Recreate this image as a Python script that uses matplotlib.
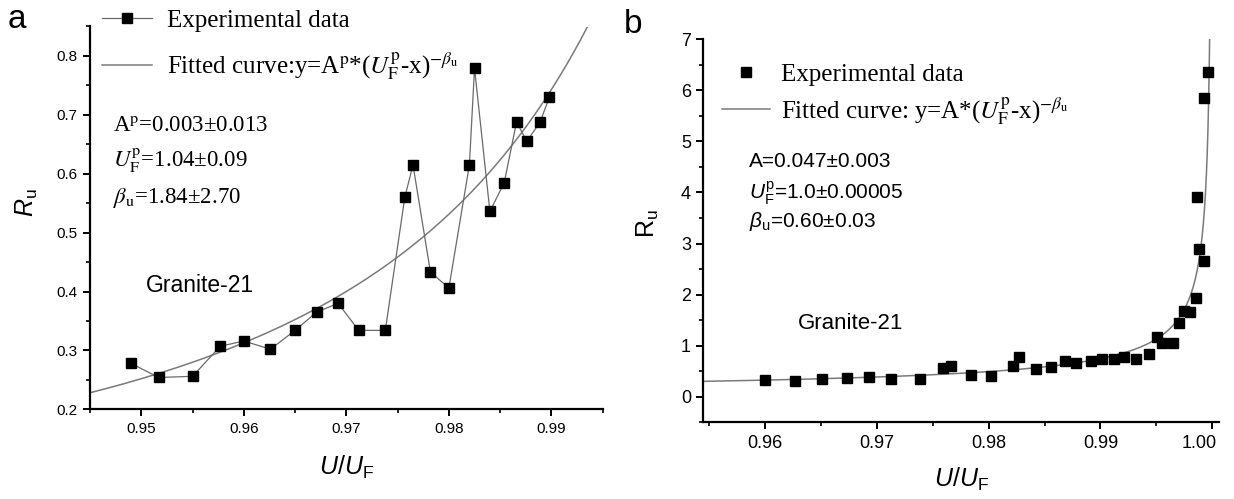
import numpy as np
import matplotlib
matplotlib.use("Agg")
import matplotlib.pyplot as plt
from matplotlib.ticker import MultipleLocator, FixedLocator
from matplotlib.transforms import ScaledTranslation

plt.rcParams['font.family'] = ['Liberation Sans', 'DejaVu Sans']
plt.rcParams['mathtext.fontset'] = 'custom'
plt.rcParams['mathtext.rm'] = 'Liberation Sans'
plt.rcParams['mathtext.it'] = 'Liberation Sans:italic'
plt.rcParams['mathtext.bf'] = 'Liberation Sans:bold'

# ---------------- data: panel a ----------------
a_x = [0.9490, 0.9517, 0.9550, 0.9577, 0.9600, 0.9626, 0.9650, 0.9671, 0.9692,
       0.9712, 0.9738, 0.9757, 0.9765, 0.9782, 0.9800, 0.9820, 0.9825, 0.9840,
       0.9854, 0.9866, 0.9876, 0.9889, 0.9898]
a_y = [0.278, 0.254, 0.256, 0.307, 0.316, 0.302, 0.334, 0.365, 0.380,
       0.334, 0.334, 0.560, 0.615, 0.433, 0.406, 0.615, 0.779, 0.536,
       0.585, 0.688, 0.655, 0.688, 0.730]
a_A, a_UF, a_beta = 0.003, 1.04, 1.84

# ---------------- data: panel b ----------------
b_x = [0.9600, 0.9627, 0.9651, 0.9673, 0.9693, 0.9713, 0.9739, 0.9759, 0.9766,
       0.9784, 0.9802, 0.9822, 0.9827, 0.9842, 0.9856, 0.9868, 0.9878, 0.9892,
       0.9901, 0.9912, 0.9921, 0.9932, 0.9943, 0.9951, 0.9955, 0.9965, 0.9970,
       0.9975, 0.9980, 0.9985, 0.9986, 0.9988, 0.9993, 0.9993, 0.9996]
b_y = [0.32, 0.30, 0.34, 0.37, 0.38, 0.34, 0.34, 0.56, 0.61,
       0.43, 0.40, 0.61, 0.77, 0.54, 0.58, 0.69, 0.65, 0.69,
       0.73, 0.73, 0.77, 0.73, 0.83, 1.16, 1.05, 1.05, 1.45,
       1.67, 1.65, 1.93, 3.92, 2.90, 2.66, 5.86, 6.35]
b_A, b_UF, b_beta = 0.047, 1.0, 0.60

a_xticks = [0.95, 0.96, 0.97, 0.98, 0.99]
a_yticks = [0.2, 0.3, 0.4, 0.5, 0.6, 0.7, 0.8]
b_xticks = [0.96, 0.97, 0.98, 0.99, 1.00]
b_yticks = [0, 1, 2, 3, 4, 5, 6, 7]

W, H = 1234, 499
fig = plt.figure(figsize=(W / 100, H / 100), dpi=100)

def fx(px):
    return px / W

def fy(py):
    return 1 - py / H

SERIF = ['Liberation Serif', 'DejaVu Serif']
LINE_C = '#6a6a6a'
CURVE_C = '#7a7a7a'


def style_axes(ax, tick_size):
    for s in ['top', 'right']:
        ax.spines[s].set_visible(False)
    for s in ['left', 'bottom']:
        ax.spines[s].set_linewidth(1.6)
    ax.tick_params(which='major', direction='out', length=5, width=1.4,
                   labelsize=tick_size, pad=4)
    ax.tick_params(which='minor', direction='out', length=3, width=1.2)


# ---------------- panel a ----------------
ax1 = fig.add_axes([fx(90), fy(409.3), fx(602.7 - 90), (409.3 - 26.5) / H])
ax1.set_xlim(0.945, 0.995)
ax1.set_ylim(0.2, 0.85)
xa = np.linspace(0.945, 0.9955, 400)
ln_a_fit, = ax1.plot(xa, a_A * (a_UF - xa) ** (-a_beta), color=CURVE_C, lw=1.1)
ln_a_dat, = ax1.plot(a_x, a_y, '-s', color=LINE_C, lw=0.9, ms=6.5,
                     mfc='black', mec='black')
ax1.xaxis.set_major_locator(FixedLocator(a_xticks))
ax1.xaxis.set_minor_locator(MultipleLocator(0.005))
ax1.yaxis.set_major_locator(FixedLocator(a_yticks))
ax1.yaxis.set_minor_locator(MultipleLocator(0.05))
ax1.set_xticklabels([f'{v:.2f}' for v in a_xticks])
ax1.set_yticklabels([f'{v:.1f}' for v in a_yticks])
style_axes(ax1, 11)
ax1.set_xlabel(r'$U/U_{\mathrm{F}}$', fontsize=18)
ax1.xaxis.set_label_coords(0.5, -0.115)
ax1.xaxis.label.set_va('top')
ax1.set_ylabel(r'$R_{\mathrm{u}}$', fontsize=18)
ax1.yaxis.set_label_coords(-0.097, 0.54)

leg1 = ax1.legend([ln_a_dat, ln_a_fit],
                  ['Experimental data',
                   r'Fitted curve:y=A$^{\mathrm{p}}$*($U_{\mathrm{F}}^{\mathrm{p}}$-x)$^{-\beta_{\mathrm{u}}}$'],
                  loc='upper left', bbox_to_anchor=(fx(102), fy(9)),
                  bbox_transform=fig.transFigure, frameon=False,
                  borderpad=0, borderaxespad=0, handlelength=2.0,
                  handletextpad=0.6, labelspacing=0.75,
                  prop={'family': SERIF, 'size': 18})
for t in leg1.get_texts():
    t.set_math_fontfamily('stix')

fig.text(fx(112.8), fy(131.7), r'A$^{\mathrm{p}}$=0.003±0.013', family=SERIF,
         size=16.5, va='baseline', math_fontfamily='stix')
fig.text(fx(112.8), fy(166.7), r'$U_{\mathrm{F}}^{\mathrm{p}}$=1.04±0.09', family=SERIF,
         size=16.5, va='baseline', math_fontfamily='stix')
fig.text(fx(112.8), fy(203), r'$\beta_{\mathrm{u}}$=1.84±2.70', family=SERIF,
         size=16.5, va='baseline', math_fontfamily='stix')
fig.text(fx(145.6), fy(291.7), 'Granite-21', size=16.5, va='baseline')
fig.text(fx(8), fy(28), 'a', size=24, va='baseline')

# ---------------- panel b ----------------
ax2 = fig.add_axes([fx(703.4), fy(422.2), fx(1219 - 703.4), (422.2 - 39.3) / H])
ax2.set_xlim(0.9545, 1.0006)
ax2.set_ylim(-0.5, 7)
xb = np.linspace(0.9545, 0.99995, 2000)
ln_b_fit, = ax2.plot(xb, b_A * (b_UF - xb) ** (-b_beta), color=CURVE_C, lw=1.1)
ln_b_dat, = ax2.plot(b_x, b_y, 's', ms=6.5, mfc='black', mec='black')
ax2.xaxis.set_major_locator(FixedLocator(b_xticks))
ax2.xaxis.set_minor_locator(MultipleLocator(0.005))
ax2.yaxis.set_major_locator(FixedLocator(b_yticks))
ax2.yaxis.set_minor_locator(MultipleLocator(0.5))
ax2.set_xticklabels([f'{v:.2f}' for v in b_xticks])
ax2.set_yticklabels([f'{v:d}' for v in b_yticks])
style_axes(ax2, 13)
# last x label sits slightly left of its tick in the reference
lastlab = ax2.get_xticklabels()[-1]
lastlab.set_transform(lastlab.get_transform() +
                      ScaledTranslation(-0.13, 0, fig.dpi_scale_trans))
ax2.set_xlabel(r'$U/U_{\mathrm{F}}$', fontsize=18)
ax2.xaxis.set_label_coords(0.5, -0.114)
ax2.xaxis.label.set_va('top')
ax2.set_ylabel(r'R$_{\mathrm{u}}$', fontsize=18)
ax2.yaxis.set_label_coords(-0.082, 0.52)

leg2 = ax2.legend([ln_b_dat, ln_b_fit],
                  ['Experimental data',
                   r'Fitted curve: y=A*($U_{\mathrm{F}}^{\mathrm{p}}$-x)$^{-\beta_{\mathrm{u}}}$'],
                  loc='upper left', bbox_to_anchor=(fx(722), fy(63)),
                  bbox_transform=fig.transFigure, frameon=False,
                  borderpad=0, borderaxespad=0, handlelength=1.9,
                  handletextpad=0.45, labelspacing=0.38,
                  prop={'family': SERIF, 'size': 18})
for t in leg2.get_texts():
    t.set_math_fontfamily('stix')

fig.text(fx(749), fy(166.7), 'A=0.047±0.003', size=15, va='baseline')
fig.text(fx(749), fy(199.3), r'$U_{\mathrm{F}}^{\mathrm{p}}$=1.0±0.00005', size=15, va='baseline')
fig.text(fx(749), fy(226.7), r'$\beta_{\mathrm{u}}$=0.60±0.03', size=15, va='baseline')
fig.text(fx(798), fy(329.3), 'Granite-21', size=16, va='baseline')
fig.text(fx(624), fy(33), 'b', size=24, va='baseline')

fig.savefig('out.png', dpi=100)
